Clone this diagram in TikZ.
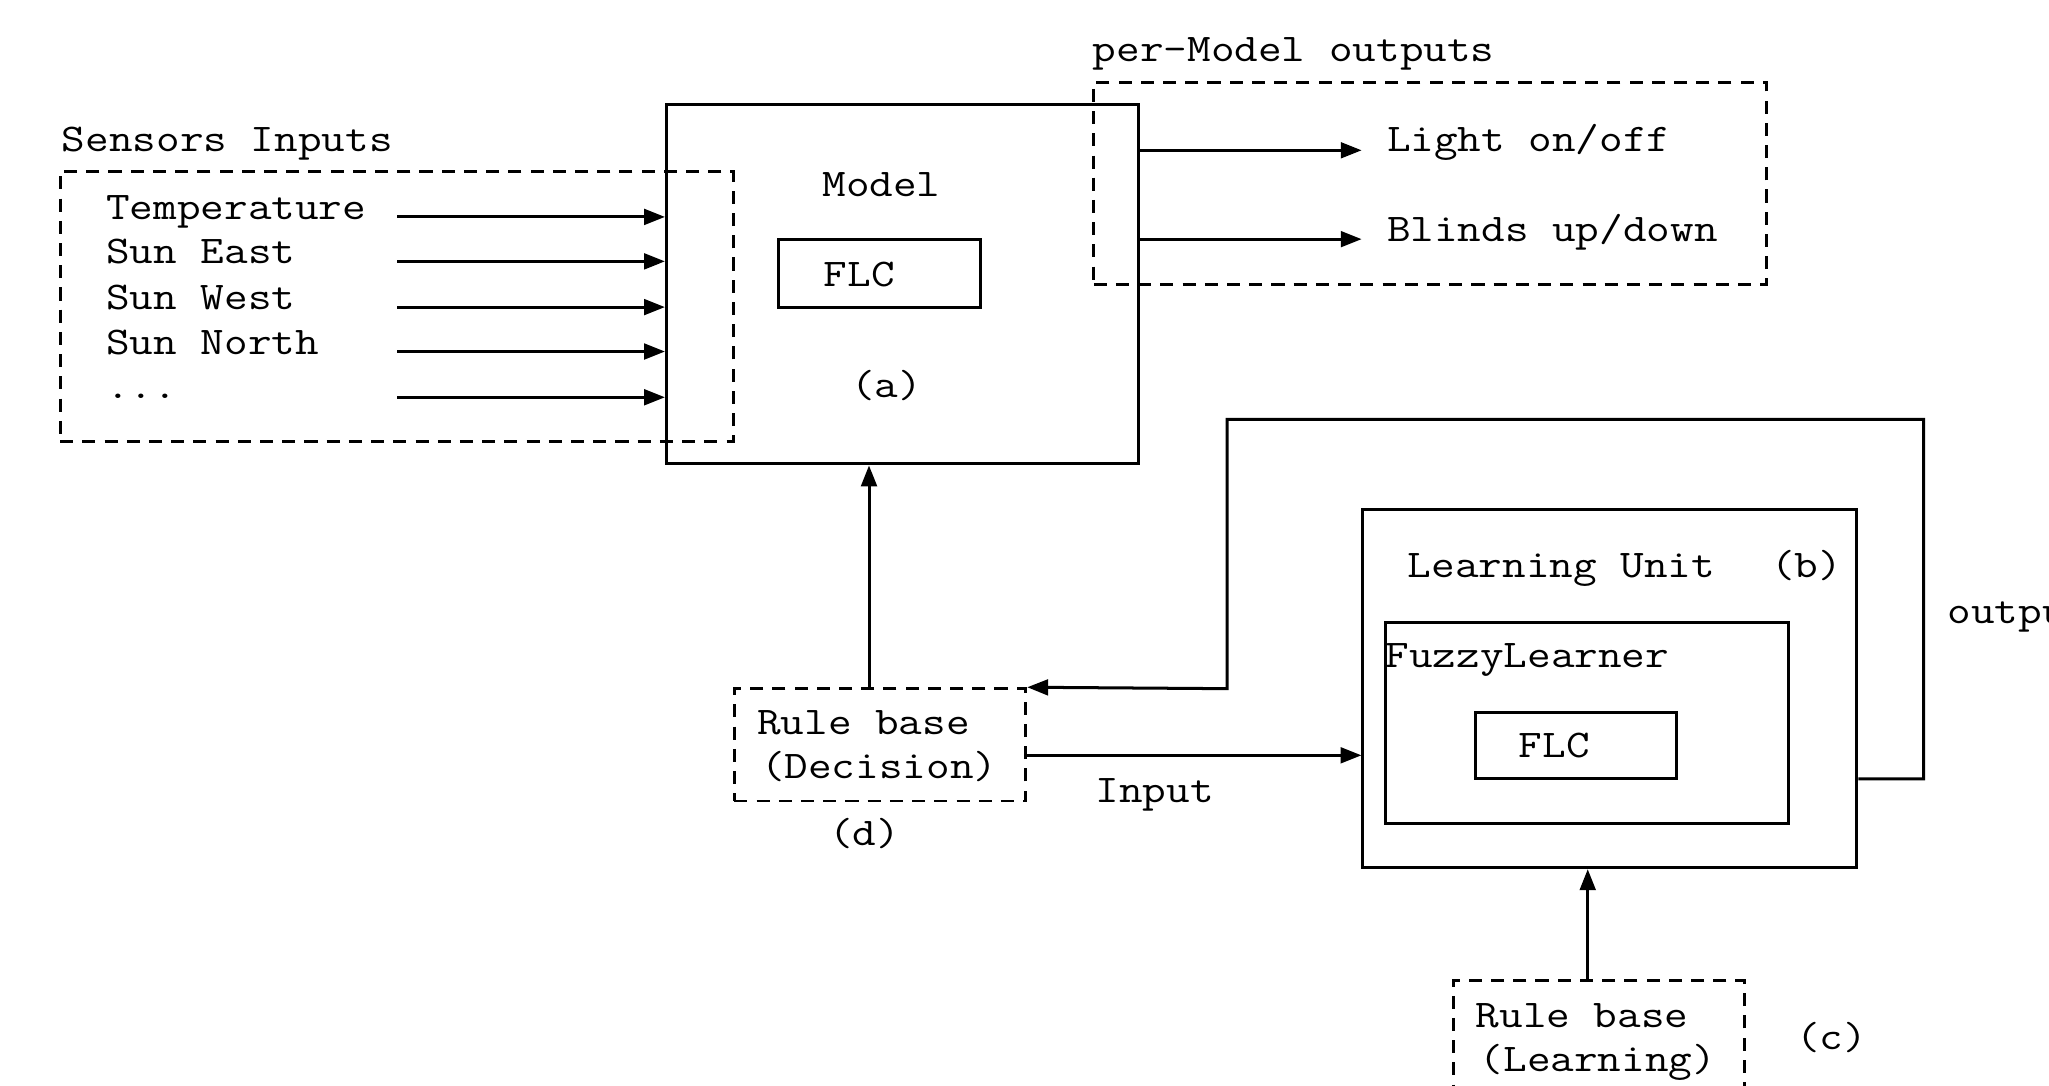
\documentclass[tikz,border=0pt]{standalone}
\usepackage{fontspec}
\setmonofont{Latin Modern Mono}[FakeStretch=1.17]
\usetikzlibrary{arrows.meta}
\begin{document}
\begin{tikzpicture}[x=0.5pt,y=-0.5pt,
  txt/.style={inner sep=0pt, anchor=base west, font=\ttfamily\fontsize{15}{18}\selectfont},
  solidbox/.style={draw, line width=1.15pt, inner sep=0pt},
  dashbox/.style={draw, line width=1.1pt, inner sep=0pt, dash pattern=on 5pt off 3.5pt},
  arr/.style={line width=1.15pt, -{Triangle[length=8pt,width=6pt]}}]
\useasboundingbox (0,0) rectangle (1568,831);
\clip (0,0) rectangle (1568,831);
% boxes
\node[dashbox, minimum width=257.5pt, minimum height=103.5pt] (sens) at (303.5,234.5) {};
\node[solidbox, minimum width=180.5pt, minimum height=137.5pt] (model) at (690.5,217.5) {};
\node[solidbox, minimum width=77pt, minimum height=26pt] (flca) at (673,209) {};
\node[dashbox, minimum width=257.5pt, minimum height=77.5pt] (outs) at (1094.5,140.5) {};
\node[dashbox, minimum width=111.5pt, minimum height=43pt] (rbd) at (673.5,570) {};
\node[solidbox, minimum width=189pt, minimum height=137pt] (lu) at (1232,527) {};
\node[solidbox, minimum width=154.5pt, minimum height=77pt] (fl) at (1214.5,553) {};
\node[solidbox, minimum width=77pt, minimum height=25.5pt] (flcb) at (1206,570.5) {};
\node[dashbox, minimum width=111.5pt, minimum height=43pt] (rbl) at (1223.5,793) {};
% texts
\node[txt] (sensl) at (47,116) {Sensors Inputs};
\node[txt] (t1) at (81,168) {Temperature};
\node[txt] (t2) at (81,202) {Sun East};
\node[txt] (t3) at (81,237) {Sun West};
\node[txt] (t4) at (81,271) {Sun North};
\node[txt] (t5) at (81,305) {...};
\node[txt] (modell) at (629,150) {Model};
\node[txt] (flcal) at (630,219) {FLC};
\node[txt] (al) at (651,304) {(a)};
\node[txt] (outsl) at (836,47) {per-Model outputs};
\node[txt] (light) at (1061,116) {Light on/off};
\node[txt] (blinds) at (1061,185) {Blinds up/down};
\node[txt] (lul) at (1077,442) {Learning Unit};
\node[txt] (bl) at (1355,442) {(b)};
\node[txt] (outl) at (1490,477) {output};
\node[txt] (fll) at (1060,511) {FuzzyLearner};
\node[txt] (flcbl) at (1162,580) {FLC};
\node[txt] (rbd1) at (579,562) {Rule base};
\node[txt] (rbd2) at (582,596) {(Decision)};
\node[txt] (inl) at (838,614) {Input};
\node[txt] (dl) at (634,647) {(d)};
\node[txt] (rbl1) at (1129,786) {Rule base};
\node[txt] (rbl2) at (1132,820) {(Learning)};
\node[txt] (cl) at (1374,803) {(c)};
% connector coordinates
\coordinate (s1) at (304,166);
\coordinate (s2) at (304,200);
\coordinate (s3) at (304,235);
\coordinate (s4) at (304,269);
\coordinate (s5) at (304,304);
\coordinate (o1) at (1042,115);
\coordinate (o2) at (1042,183);
\coordinate (xd) at (665,0);
\coordinate (xc) at (1215,0);
\coordinate (yin) at (0,578);
\coordinate (yfb) at (0,596);
\coordinate (fb1) at (1472,596);
\coordinate (fb2) at (1472,321);
\coordinate (fb3) at (939,321);
\coordinate (fb4) at (939,527);
% connectors
\foreach \s in {s1,s2,s3,s4,s5}
  \draw[arr] (\s) -- (\s -| model.west);
\draw[arr] (o1 -| model.east) -- (o1);
\draw[arr] (o2 -| model.east) -- (o2);
\draw[arr] (rbd.north -| xd) -- (model.south -| xd);
\draw[arr] (lu.east |- yfb) -- (fb1) -- (fb2) -- (fb3) -- (fb4) -- (rbd.north east);
\draw[arr] (rbd.east |- yin) -- (lu.west |- yin);
\draw[arr] (rbl.north -| xc) -- (lu.south -| xc);
\end{tikzpicture}
\end{document}
